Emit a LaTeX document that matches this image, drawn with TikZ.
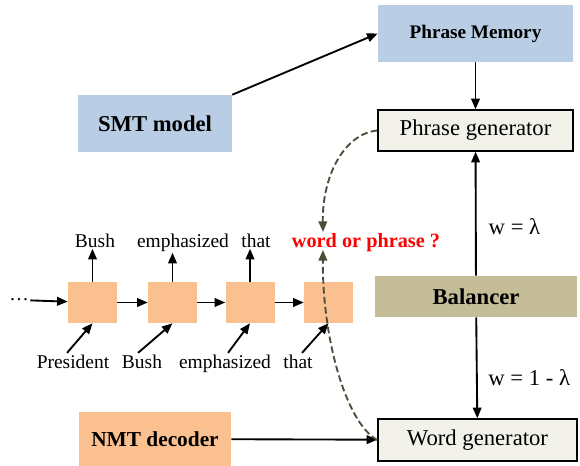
\documentclass[tikz,border=0pt]{standalone}
\usepackage{fontspec}
\setmainfont{Liberation Serif}
\usetikzlibrary{arrows.meta,calc}
\definecolor{memblue}{RGB}{185,205,228}
\definecolor{nmtorange}{RGB}{250,192,144}
\definecolor{baltan}{RGB}{196,189,151}
\definecolor{genfill}{RGB}{242,242,234}
\definecolor{olive}{RGB}{79,77,58}

\begin{document}
\begin{tikzpicture}[
        x=0.75pt,y=-0.75pt,
        >={Triangle[length=8pt,width=6.5pt]},
        bigfont/.style={font=\fontsize{17}{20}\selectfont},
        smallfont/.style={font=\fontsize{14.6}{17}\selectfont},
        smtbox/.style={rectangle,fill=memblue,inner sep=0pt,minimum width=154*0.75pt,minimum height=57*0.75pt,font=\fontsize{17}{20}\selectfont\bfseries},
        genbox/.style={rectangle,draw,line width=1.1pt,fill=genfill,inner sep=0pt,minimum width=195*0.75pt,minimum height=41*0.75pt,bigfont},
        cell/.style={rectangle,fill=nmtorange,inner sep=0pt,minimum width=49*0.75pt,minimum height=41*0.75pt},
        lbl/.style={anchor=base,inner sep=1pt,smallfont},
        arrow/.style={->,line width=1.4pt},
        dasharrow/.style={->,line width=1.4pt,draw=olive,dash pattern=on 5pt off 2.5pt}
    ]
        \useasboundingbox (0,0) rectangle (580,466);

        % upper part
        \node[smtbox,minimum width=195*0.75pt,font=\fontsize{14.4}{17}\selectfont\bfseries] (mem) at (475.5,33.5) {Phrase Memory};
        \node[smtbox] (smt) at (155,123.5) {SMT model};
        \node[genbox] (pgen) at (475.5,130.5) {Phrase generator};
        \node[rectangle,fill=baltan,inner sep=0pt,minimum width=202*0.75pt,minimum height=41*0.75pt,font=\fontsize{17}{20}\selectfont\bfseries] (bal) at (476,296.5) {Balancer};
        \node[genbox,minimum width=199*0.75pt,minimum height=42*0.75pt] (wgen) at (477.5,440) {Word generator};
        \node[smtbox,fill=nmtorange,minimum width=152*0.75pt,minimum height=54*0.75pt,font=\fontsize{16}{19}\selectfont\bfseries] (nmt) at (155,439) {NMT decoder};

        % decoder steps
        \node[inner sep=1pt,smallfont] (dots) at (19,300) {\dots};
        \foreach \i/\x in {1/92.5,2/172.5,3/250,4/328.5}
            \node[cell] (c\i) at (\x,302.5) {};
        \node[lbl] (o1) at (95,247) {Bush};
        \node[lbl] (o2) at (183,247) {emphasized};
        \node[lbl] (o3) at (256,247) {that};
        \node[lbl] (i1) at (73,368) {President};
        \node[lbl] (i2) at (142,368) {Bush};
        \node[lbl] (i3) at (225,368) {emphasized};
        \node[lbl] (i4) at (298,368) {that};
        \node[anchor=base,inner sep=1pt,text=red,font=\fontsize{15.2}{18}\selectfont\bfseries] (wp) at (366,247) {word or phrase ?};
        \coordinate (tipa) at (323,232);
        \coordinate (tipb) at (323,250);

        \draw[arrow] (smt.north east) -- (mem.west);
        \draw[arrow] (mem) -- (pgen);
        \draw[arrow] (bal) -- node[pos=0.4,right=9pt,inner sep=0pt,bigfont]{w = λ} (pgen);
        \draw[arrow] (bal) -- node[pos=0.6,right=8pt,inner sep=0pt,bigfont]{w = 1 - λ} (wgen);
        \draw[arrow] (nmt) -- (wgen);

        \draw[arrow] (dots) -- (c1);
        \draw[arrow] (c1) -- (c2);
        \draw[arrow] (c2) -- (c3);
        \draw[arrow] (c3) -- (c4);
        \draw[arrow] (c1.north) -- (c1.north |- o1.south);
        \draw[arrow] (c2.north) -- (c2.north |- o2.south);
        \draw[arrow] (c3.north) -- (c3.north |- o3.south);
        \draw[arrow] ($(i1.north)+(-6,0)$) -- (c1.south);
        \draw[arrow] ($(i2.north)+(-4,0)$) -- (c2.south);
        \draw[arrow] ($(i3.north)+(3,0)$) -- (c3.south);
        \draw[arrow] ($(i4.north)+(4,0)$) -- (c4.south);

        \draw[dasharrow] (pgen.west) .. controls (343,134) and (322,178) .. (tipa);
        \draw[dasharrow] (wgen.west) .. controls (345,422) and (322,335) .. (tipb);
    \end{tikzpicture}
\end{document}
